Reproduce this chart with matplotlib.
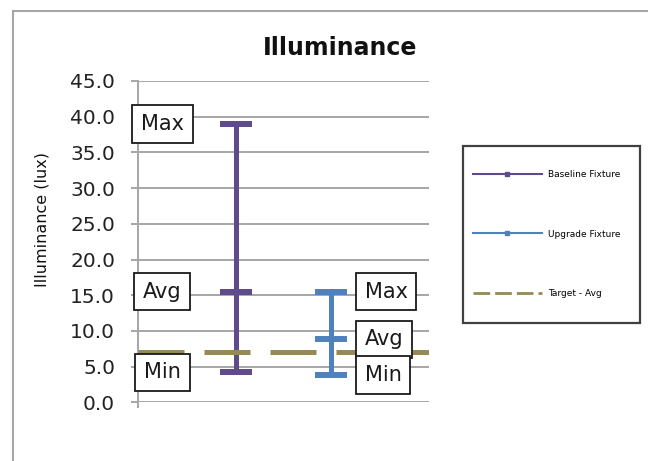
import numpy as np
import matplotlib
matplotlib.use('Agg')
import matplotlib.pyplot as plt
from matplotlib.lines import Line2D
from matplotlib.patches import Rectangle

# illuminance readings (lux)
fixtures = ['Baseline Fixture', 'Upgrade Fixture']
min_lux = [4.2, 3.8]
avg_lux = [15.5, 8.8]
max_lux = [39.0, 15.5]
target_avg = 7.0
target_name = 'Target - Avg'
y_ticks = np.arange(0, 46, 5)

colors = ['#5f4a8b', '#4f81bd']
target_color = '#948a54'
grid_color = '#a6a6a6'


def draw_fixture(ax, x, lo, mid, hi, color):
        # high-low line with caps at min / max and a bar at the average
        ax.errorbar([x], [mid], yerr=[[mid - lo], [hi - mid]], fmt='_',
                    color=color, ecolor=color, elinewidth=3.6, capsize=11.5,
                    capthick=4.3, markersize=23, mew=4.3, zorder=3)


def label_box(ax, x, y, text, ha):
        ax.text(x, y, text, ha=ha, va='center', fontsize=15, color='#1a1a1a',
                zorder=5,
                bbox=dict(boxstyle='square,pad=0.42', fc='white', ec='#1a1a1a', lw=1.3))


def main():
        fig = plt.figure(figsize=(6.48, 4.61), dpi=100)
        ax = fig.add_axes([0.2122, 0.1273, 0.6613 - 0.2122, 0.8243 - 0.1273])

        xs = np.arange(1, len(fixtures) + 1)
        for x, lo, mid, hi, c in zip(xs, min_lux, avg_lux, max_lux, colors):
                draw_fixture(ax, x, lo, mid, hi, c)

        ax.axhline(target_avg, color=target_color, lw=3.6, dashes=(9.2, 4.0),
                   dash_capstyle='butt', zorder=4)

        # value labels: left of the first fixture, right of the second
        label_x = [0.23, 2.35]
        label_ha = ['center', 'left']
        for i in range(len(fixtures)):
                for name, vals in (('Max', max_lux), ('Avg', avg_lux), ('Min', min_lux)):
                        label_box(ax, label_x[i], vals[i], name, label_ha[i])

        ax.set_xlim(-0.03, 3.02)
        ax.set_ylim(0, 45)
        ax.set_yticks(y_ticks)
        ax.set_yticklabels(['%.1f' % t for t in y_ticks])
        ax.set_xticks([-0.03])
        ax.set_xticklabels([''])
        ax.yaxis.grid(True, color=grid_color, lw=1.4)
        ax.set_axisbelow(True)
        for side in ('top', 'right', 'bottom'):
                ax.spines[side].set_visible(False)
        ax.spines['left'].set_color(grid_color)
        ax.spines['left'].set_linewidth(1.4)
        ax.tick_params(axis='y', length=5.4, width=1.4, color=grid_color,
                       pad=10.8, labelsize=14.5, labelcolor='#222222')
        ax.tick_params(axis='x', length=4.5, width=1.4, color=grid_color)

        fig.text(0.525, 0.895, 'Illuminance', ha='center', va='center',
                 fontsize=17, fontweight='bold', color='#111111')
        fig.text(0.065, 0.523, 'Illuminance (lux)', rotation=90, ha='center',
                 va='center', fontsize=11.5, color='#111111')

        # legend with its own frame
        handles = [Line2D([], [], color=c, lw=1.5, marker='s', markersize=2.5)
                   for c in colors]
        handles.append(Line2D([], [], color=target_color, lw=2, dashes=(6, 1.8)))
        fig.legend(handles, fixtures + [target_name], loc='upper left',
                   bbox_to_anchor=(473 / 648, 1 - 170 / 461), frameon=False,
                   borderpad=0, borderaxespad=0, fontsize=6.5,
                   handlelength=7.6, handletextpad=0.7, labelspacing=5.6)
        fig.patches.append(Rectangle((463 / 648, 1 - 323 / 461), 177 / 648, 177 / 461,
                                     transform=fig.transFigure, fill=False,
                                     ec='#404040', lw=1.6))

        # chart area border running off the right and bottom edges
        fig.patches.append(Rectangle((13 / 648, -0.1), 1.2, 1 - 11 / 461 + 0.1,
                                     transform=fig.transFigure, fill=False,
                                     ec='#a6a6a6', lw=1.5))

        fig.savefig('out.png', dpi=100)


if __name__ == '__main__':
        main()
